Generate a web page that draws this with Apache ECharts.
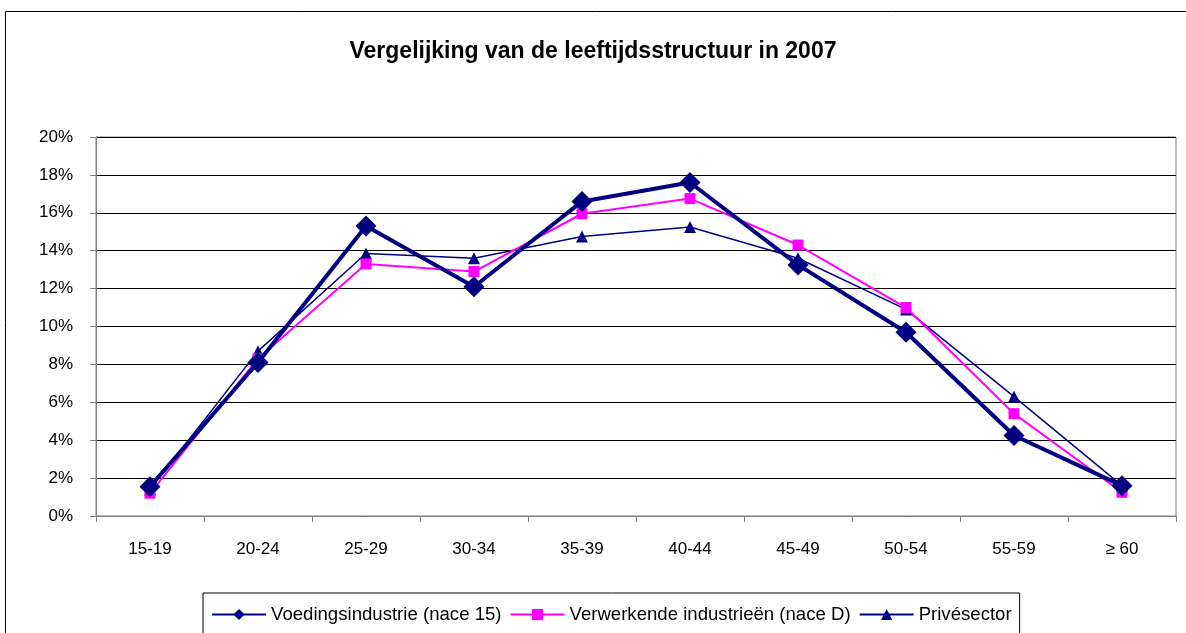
<!DOCTYPE html>
<html><head><meta charset="utf-8">
<script src="https://cdn.jsdelivr.net/npm/echarts@6/dist/echarts.min.js"></script>
<style>html,body{margin:0;padding:0;background:#fff}#c{width:1186px;height:633px}</style>
</head><body><div id="c"></div>
<script>
const categories = ['15-19','20-24','25-29','30-34','35-39','40-44','45-49','50-54','55-59','\u2265 60'];
const voeding = [1.55, 8.1, 15.3, 12.1, 16.6, 17.6, 13.25, 9.7, 4.25, 1.6];
const verwerkende = [1.2, 8.3, 13.3, 12.9, 15.95, 16.75, 14.3, 11.0, 5.4, 1.25];
const prive = [1.4, 8.7, 13.85, 13.6, 14.75, 15.25, 13.6, 10.9, 6.3, 1.6];
const seriesNames = ['Voedingsindustrie (nace 15)', 'Verwerkende industrieën (nace D)', 'Privésector'];
const FONT = '"Liberation Sans", Arial, sans-serif';

const chart = echarts.init(document.getElementById('c'), null, {renderer:'canvas'});
chart.setOption({
  animation:false,
  backgroundColor:'#fff',
  graphic:[{type:'rect', shape:{x:5.5, y:11.5, width:1200, height:700}, style:{fill:'none', stroke:'#000', lineWidth:1}, z:-1}],
  title:{text:'Vergelijking van de leeftijdsstructuur in 2007', left:'center', top:35,
    textStyle:{fontFamily:FONT, fontSize:23, fontWeight:'bold', color:'#000'}},
  grid:{left:96, right:10, top:137, bottom:117, show:true, borderColor:'#808080', borderWidth:1, backgroundColor:'#fff'},
  legend:{left:203, top:593, width:950, itemGap:8, itemWidth:54, itemHeight:14,
    borderColor:'#000', borderWidth:1, padding:[12,8,20,8],
    textStyle:{fontFamily:FONT, fontSize:18.6, color:'#000'},
    data:seriesNames},
  xAxis:{type:'category', data:categories, boundaryGap:true,
    axisLine:{lineStyle:{color:'#808080', width:1}},
    axisTick:{show:true, length:6, lineStyle:{color:'#808080'}},
    axisLabel:{fontFamily:FONT, fontSize:17, color:'#000', margin:25}},
  yAxis:{type:'value', min:0, max:20, interval:2,
    axisLine:{show:true, lineStyle:{color:'#808080', width:1}},
    axisTick:{show:true, length:6, lineStyle:{color:'#808080'}},
    axisLabel:{fontFamily:FONT, fontSize:17, color:'#000', margin:23, formatter:v=>v+'%'},
    splitLine:{lineStyle:{color:'#000', width:1}}},
  series:[
    {name:seriesNames[0], type:'line', data:voeding, symbol:'diamond', symbolSize:21,
      itemStyle:{color:'#000080'}, lineStyle:{color:'#000080', width:4}, z:4},
    {name:seriesNames[1], type:'line', data:verwerkende, symbol:'rect', symbolSize:11,
      itemStyle:{color:'#ff00ff'}, lineStyle:{color:'#ff00ff', width:2}, z:3},
    {name:seriesNames[2], type:'line', data:prive, symbol:'triangle', symbolSize:12,
      itemStyle:{color:'#000080'}, lineStyle:{color:'#000080', width:1.5}, z:2}
  ]
});
</script></body></html>
